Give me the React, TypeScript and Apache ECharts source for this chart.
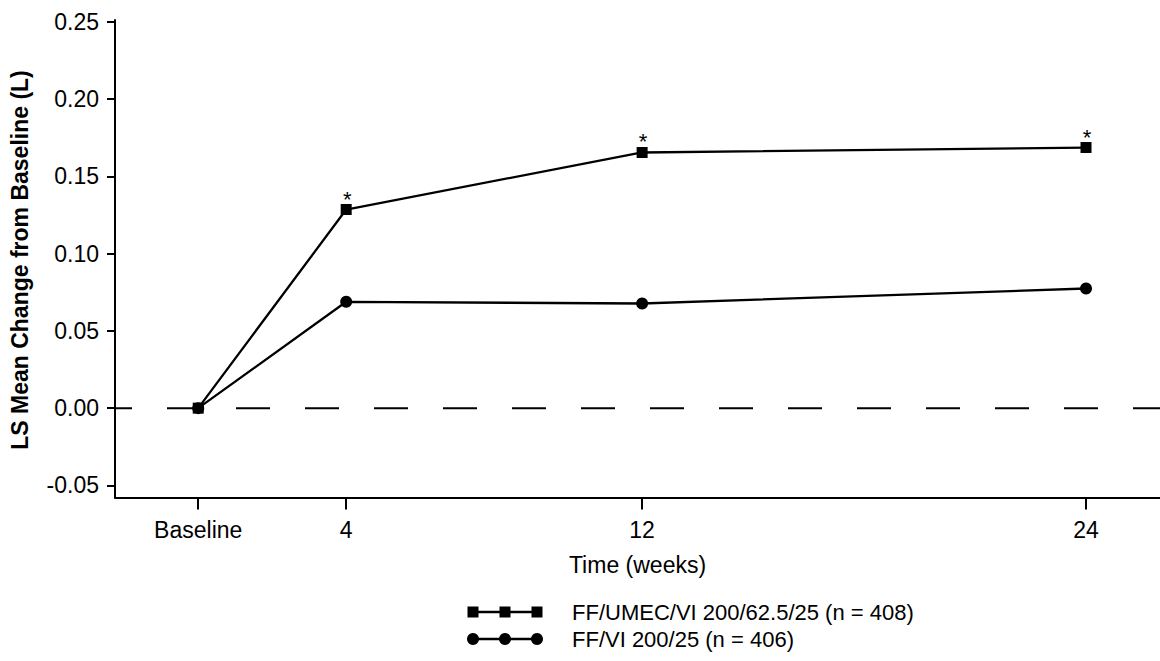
import React, { useEffect, useRef } from "react";
import * as echarts from "echarts";

const weeks = [0, 4, 12, 24];
const xTickLabels = ["Baseline", "4", "12", "24"];
const tripleValues = [0, 0.1285, 0.1654, 0.1686];
const dualValues = [0, 0.0688, 0.0677, 0.0774];
const tripleStars = ["", "*", "*", "*"];
const yTicks = [-0.05, 0, 0.05, 0.1, 0.15, 0.2, 0.25];
const seriesNames = ["FF/UMEC/VI 200/62.5/25 (n = 408)", "FF/VI 200/25 (n = 406)"];
const yTitle = "LS Mean Change from Baseline (L)";
const xTitle = "Time (weeks)";

const FONT = "'Liberation Sans', Arial, sans-serif";

export default function App() {
  const ref = useRef<HTMLDivElement>(null);
  useEffect(() => {
    document.body.style.margin = "0";
    const chart = echarts.init(ref.current!, null, { renderer: "svg" });
    const xMin = -2.25;
    const xMax = 26;
    chart.setOption({
      animation: false,
      backgroundColor: "#fff",
      textStyle: { fontFamily: FONT, color: "#000" },
      grid: { left: 115, right: 0, top: 20, bottom: 163.5 },
      xAxis: {
        type: "value",
        min: xMin,
        max: xMax,
        axisLine: { onZero: false, lineStyle: { color: "#000", width: 2 } },
        axisTick: { customValues: weeks, length: 12, lineStyle: { color: "#000", width: 2 } },
        axisLabel: {
          customValues: weeks,
          margin: 21,
          fontSize: 23,
          color: "#000",
          fontFamily: FONT,
          formatter: (v: number) => xTickLabels[weeks.indexOf(v)] ?? "",
        },
        splitLine: { show: false },
        name: xTitle,
        nameLocation: "middle",
        nameGap: 56,
        nameTextStyle: { fontSize: 23, color: "#000", fontFamily: FONT },
      },
      yAxis: {
        type: "value",
        min: -0.0578,
        max: 0.2511,
        axisLine: { show: true, onZero: false, lineStyle: { color: "#000", width: 2 } },
        axisTick: { show: true, customValues: yTicks, length: 8, lineStyle: { color: "#000", width: 2 } },
        axisLabel: {
          customValues: yTicks,
          margin: 16,
          fontSize: 23,
          color: "#000",
          fontFamily: FONT,
          formatter: (v: number) => v.toFixed(2),
        },
        splitLine: { show: false },
      },
      graphic: [
        {
          type: "text",
          x: 20,
          y: 260,
          rotation: Math.PI / 2,
          style: {
            text: yTitle,
            font: `bold 23px ${FONT}`,
            fill: "#000",
            textAlign: "center",
            textVerticalAlign: "middle",
          },
        },
        // legend row 1
        { type: "line", shape: { x1: 469, y1: 612, x2: 538, y2: 612 }, style: { stroke: "#000", lineWidth: 2.3 } },
        { type: "rect", shape: { x: 467.5, y: 606.5, width: 11, height: 11 }, style: { fill: "#000" } },
        { type: "rect", shape: { x: 499.5, y: 606.5, width: 11, height: 11 }, style: { fill: "#000" } },
        { type: "rect", shape: { x: 531.5, y: 606.5, width: 11, height: 11 }, style: { fill: "#000" } },
        {
          type: "text",
          x: 572,
          y: 612,
          style: { text: seriesNames[0], font: `22px ${FONT}`, fill: "#000", textVerticalAlign: "middle" },
        },
        // legend row 2
        { type: "line", shape: { x1: 473, y1: 639, x2: 537, y2: 639 }, style: { stroke: "#000", lineWidth: 2.3 } },
        { type: "circle", shape: { cx: 473, cy: 639, r: 6 }, style: { fill: "#000" } },
        { type: "circle", shape: { cx: 505, cy: 639, r: 6 }, style: { fill: "#000" } },
        { type: "circle", shape: { cx: 537, cy: 639, r: 6 }, style: { fill: "#000" } },
        {
          type: "text",
          x: 572,
          y: 639,
          style: { text: seriesNames[1], font: `22px ${FONT}`, fill: "#000", textVerticalAlign: "middle" },
        },
      ],
      series: [
        {
          type: "line",
          name: "zero",
          data: [[xMin, 0], [xMax, 0]],
          symbol: "none",
          silent: true,
          z: 1,
          lineStyle: { color: "#000", width: 2, type: [34, 35], dashOffset: 17 },
        },
        {
          type: "line",
          name: seriesNames[1],
          data: weeks.map((w, i) => [w, dualValues[i]]),
          symbol: "circle",
          symbolSize: 12,
          itemStyle: { color: "#000" },
          lineStyle: { color: "#000", width: 2.3 },
          z: 3,
        },
        {
          type: "line",
          name: seriesNames[0],
          data: weeks.map((w, i) => [w, tripleValues[i]]),
          symbol: "rect",
          symbolSize: 11,
          itemStyle: { color: "#000" },
          lineStyle: { color: "#000", width: 2.3 },
          z: 4,
          label: {
            show: true,
            position: "top",
            distance: 0,
            offset: [1, 6],
            fontSize: 22,
            color: "#000",
            fontFamily: FONT,
            formatter: (p: any) => tripleStars[p.dataIndex],
          },
        },
      ],
    });
    return () => chart.dispose();
  }, []);
  return <div ref={ref} style={{ width: 1160, height: 661, position: "absolute", left: 0, top: 0 }} />;
}
